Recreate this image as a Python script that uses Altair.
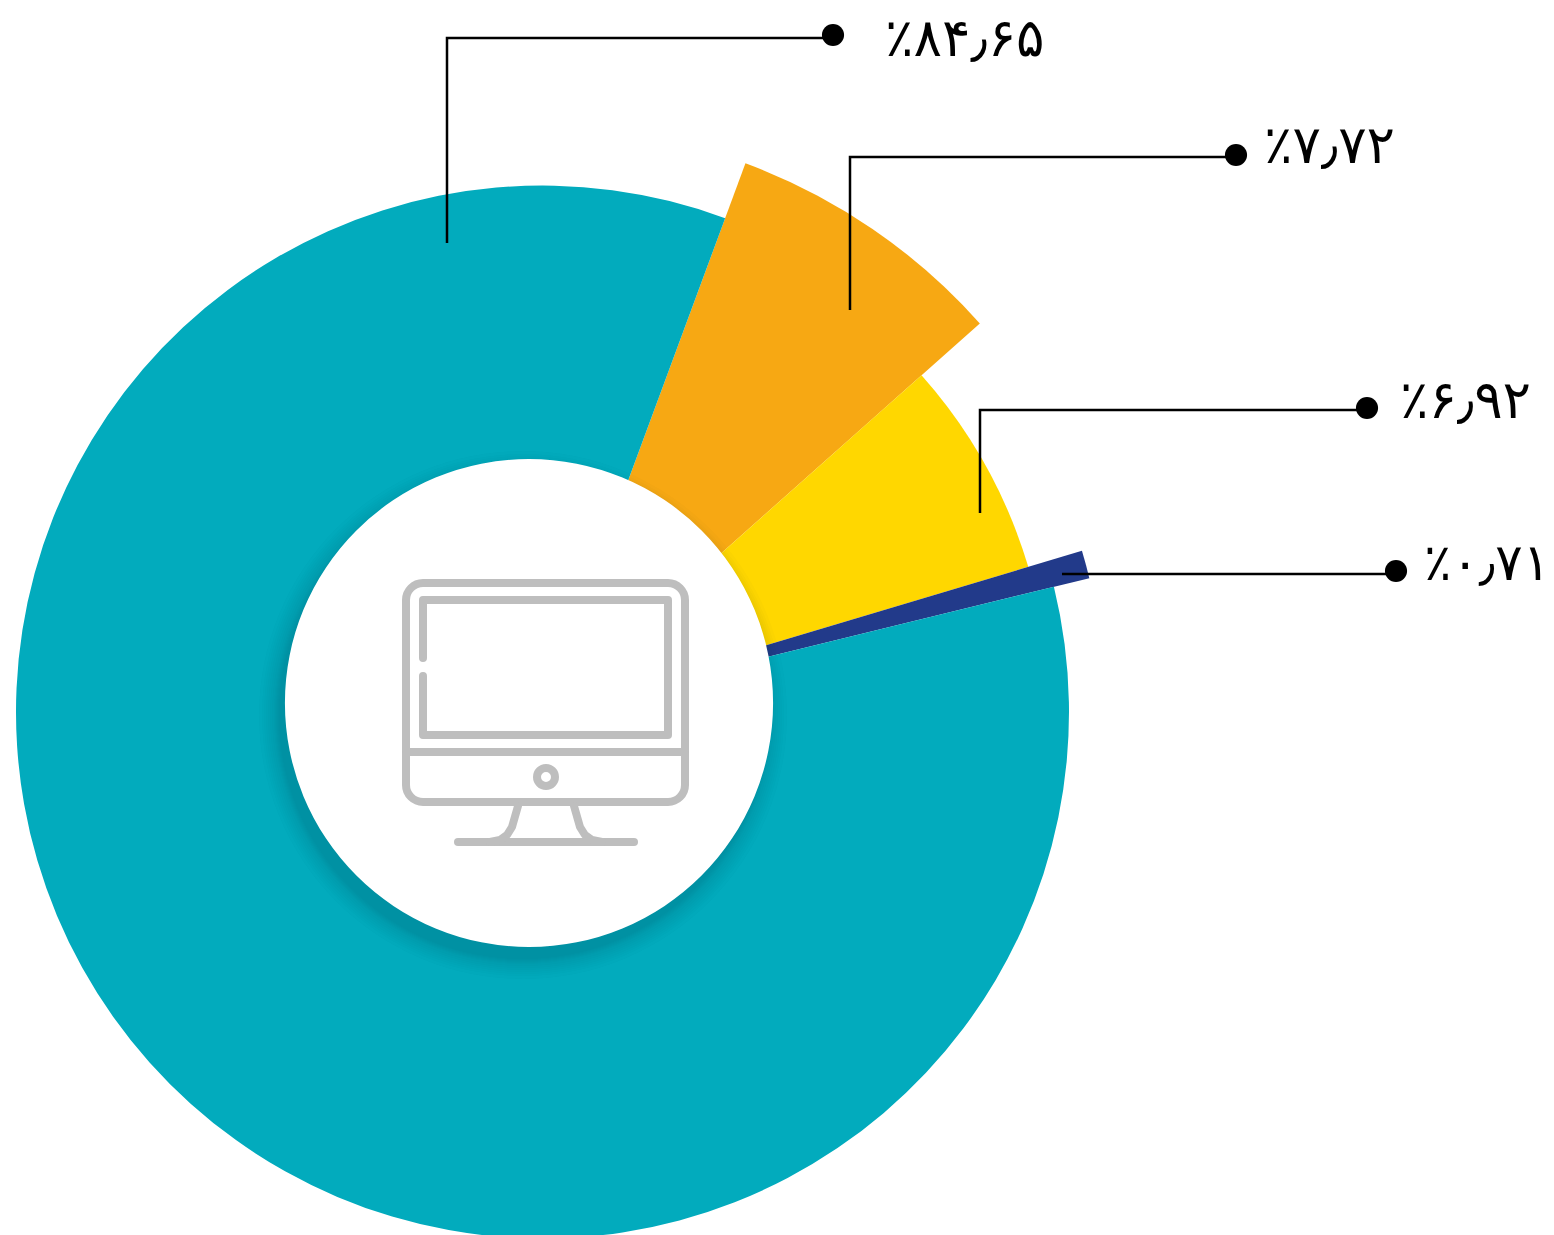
import math
import altair as alt
import pandas as pd

# slices (angular shares as drawn in the picture; labels carry the printed figures)
names = ["orange", "yellow", "navy", "teal"]
values = [7.8, 6.94, 0.8, 84.46]
colors = ["#F7A813", "#FFD700", "#223A8A", "#02ABBD"]
radii = [585, 507, 563, 526.5]
center = (542.5, 712)
start_deg = 20.3

# hole
hole_x, hole_y, hole_r = 529, 703, 244
shadow_steps = [20, 17, 15, 13, 11, 9, 7, 5, 4, 3, 2, 1, 0]
shadow_dx, shadow_dy = -6, 12

# labels
labels = ["٪۸۴٫۶۵", "٪۷٫۷۲", "٪۶٫۹۲", "٪۰٫۷۱"]
label_x = [885, 1264, 1400, 1424]
label_y = [40, 147, 402, 565]
label_size = [53, 53, 53, 51]
dot_x = [833, 1236, 1367, 1396]
dot_y = [35, 155, 408, 571]

# leader lines
leaders = {
    "a": [(447, 243), (447, 38), (833, 38)],
    "b": [(850, 310), (850, 157), (1236, 157)],
    "c": [(980, 513), (980, 410), (1367, 410)],
    "d": [(1062, 574), (1396, 574)],
}

# monitor icon strokes
icon_paths = {
    "divider": [(406, 752), (685, 752)],
    "screen": [(423, 658), (423, 600), (668, 600), (668, 735), (423, 735), (423, 676)],
    "base": [(458, 842), (634, 842)],
    "legL": [(518, 806), (512, 827), (507, 835), (500, 840), (490, 842)],
    "legR": [(574, 806), (580, 827), (585, 835), (592, 840), (602, 842)],
}
frame = (406, 583, 685, 802)
knob = (546, 777, 9)

W, H = 1538, 1227
xs = alt.Scale(domain=[8, 8 + W], range=[0, W])
ys = alt.Scale(domain=[8, 8 + H], range=[0, H])
rs = alt.Scale(type="linear", domain=[0, 600], range=[0, 600])
ts = alt.Scale(domain=[0, 100], range=[math.radians(start_deg), math.radians(start_deg) + 2 * math.pi])
X = lambda f="x": alt.X(f"{f}:Q", scale=xs, axis=None)
Y = lambda f="y": alt.Y(f"{f}:Q", scale=ys, axis=None)
R = alt.Radius("r:Q", scale=rs, stack=None)

cum = 0
rows = []
for n, v, c, r in zip(names, values, colors, radii):
    rows.append(dict(name=n, t0=cum, t1=cum + v, c=c, r=r, x=center[0], y=center[1]))
    cum += v
wedges = alt.Chart(pd.DataFrame(rows)).mark_arc(clip=True).encode(
    x=X(), y=Y(), radius=R,
    theta=alt.Theta("t0:Q", scale=ts), theta2="t1:Q",
    color=alt.Color("c:N", scale=None),
)

shadow_df = pd.DataFrame([dict(x=hole_x + shadow_dx, y=hole_y + shadow_dy, r=hole_r + s, s=s) for s in shadow_steps])
shadow = alt.Chart(shadow_df).mark_arc(theta=0, theta2=2 * math.pi, color="#00333d", opacity=0.016).encode(
    x=X(), y=Y(), radius=R
)
hole = alt.Chart(pd.DataFrame([dict(x=hole_x, y=hole_y, r=hole_r)])).mark_arc(
    theta=0, theta2=2 * math.pi, color="#ffffff"
).encode(x=X(), y=Y(), radius=R)

GRAY = "#BEBEBE"
frame_chart = alt.Chart(pd.DataFrame([dict(x=frame[0], x2=frame[2], y=frame[1], y2=frame[3])])).mark_rect(
    fillOpacity=0, stroke=GRAY, strokeWidth=8, cornerRadius=17
).encode(x=X(), x2="x2:Q", y=Y(), y2="y2:Q")

icon_rows = [dict(p=k, i=i, x=x, y=y) for k, pts in icon_paths.items() for i, (x, y) in enumerate(pts)]
icon_lines = alt.Chart(pd.DataFrame(icon_rows)).mark_line(
    stroke=GRAY, strokeWidth=8, strokeCap="round", strokeJoin="round"
).encode(x=X(), y=Y(), detail="p:N", order="i:Q")

knob_chart = alt.Chart(pd.DataFrame([dict(x=knob[0], y=knob[1], r=knob[2])])).mark_arc(
    theta=0, theta2=2 * math.pi, fillOpacity=0, stroke=GRAY, strokeWidth=8
).encode(x=X(), y=Y(), radius=R)

lead_rows = [dict(p=k, i=i, x=x, y=y) for k, pts in leaders.items() for i, (x, y) in enumerate(pts)]
lead_lines = alt.Chart(pd.DataFrame(lead_rows)).mark_line(stroke="#000000", strokeWidth=2.5).encode(
    x=X(), y=Y(), detail="p:N", order="i:Q"
)
dots = alt.Chart(pd.DataFrame(dict(x=dot_x, y=dot_y))).mark_point(
    filled=True, color="#000000", opacity=1, size=490
).encode(x=X(), y=Y())
text_layers = [
    alt.Chart(pd.DataFrame(dict(x=[lx], y=[ly], t=[lt]))).mark_text(
        align="left", baseline="middle", font="DejaVu Sans", fontSize=ls, color="#000000"
    ).encode(x=X(), y=Y(), text="t:N")
    for lx, ly, lt, ls in zip(label_x, label_y, labels, label_size)
]

chart = alt.layer(
    wedges, shadow, hole, frame_chart, icon_lines, knob_chart, lead_lines, dots, *text_layers
).properties(
    width=W, height=H, padding=0, autosize=alt.AutoSizeParams(type="none"),
    background="#ffffff",
).configure_view(stroke=None)

chart.save("out.html", embed_options={"renderer": "svg", "actions": False})
